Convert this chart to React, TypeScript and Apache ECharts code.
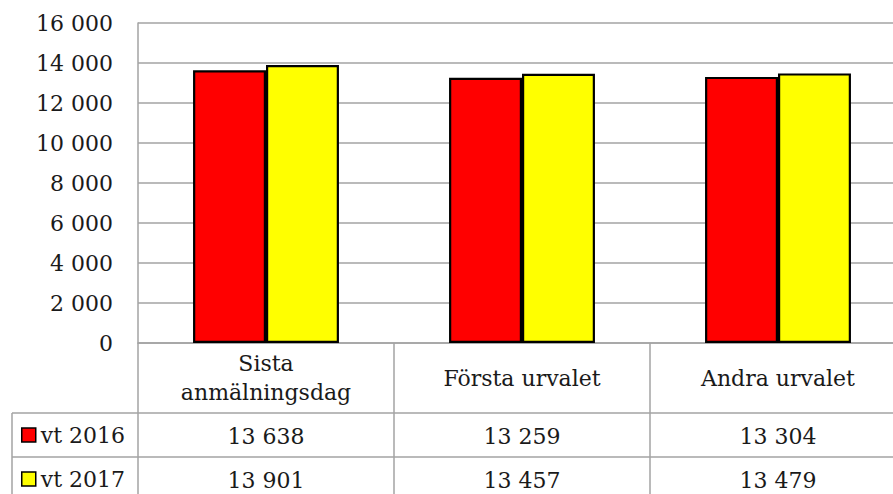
import React, { useEffect, useRef } from "react";
import * as echarts from "echarts";

const categories = ["Sista\nanmälningsdag", "Första urvalet", "Andra urvalet"];
const seriesNames = ["vt 2016", "vt 2017"];
const vt2016 = [13638, 13259, 13304];
const vt2017 = [13901, 13457, 13479];
const seriesColors = ["#ff0000", "#ffff00"];
const yMin = 0;
const yMax = 16000;
const yInterval = 2000;

const fmt = (v: number) => String(v).replace(/\B(?=(\d{3})+(?!\d))/g, " ");

const FONT = "DejaVu Serif";
const GRAY = "#a3a3a3";
const TXT = "#1a1a1a";

export default function App() {
  const ref = useRef<HTMLDivElement>(null);
  useEffect(() => {
    if (!ref.current) return;
    const chart = echarts.init(ref.current, null, { renderer: "svg" });
    const gridLeft = 138;
    const gridTop = 23;
    const gridBottomY = 343;
    const gridWidth = 768;
    const rowLine1 = 413;
    const rowLine2 = 457;
    const valueAxis = (data: string[], margin: number) => ({
      type: "category",
      gridIndex: 0,
      position: "bottom",
      data,
      axisLine: { show: false },
      axisTick: { show: false },
      splitLine: { show: false },
      axisLabel: {
        margin,
        verticalAlign: "middle",
        fontFamily: FONT,
        fontSize: 22,
        color: TXT,
        interval: 0,
      },
    });
    chart.setOption({
      animation: false,
      backgroundColor: "#ffffff",
      grid: {
        left: gridLeft,
        top: gridTop,
        width: gridWidth,
        height: gridBottomY - gridTop,
        containLabel: false,
        outerBoundsMode: "none",
      },
      legend: {
        orient: "vertical",
        left: 21,
        top: 424,
        padding: 0,
        itemWidth: 14,
        itemHeight: 14,
        itemGap: 22,
        icon: "rect",
        itemStyle: { borderColor: "#000", borderWidth: 1.5 },
        textStyle: { fontFamily: FONT, fontSize: 22, color: TXT, lineHeight: 22 },
        data: seriesNames,
      },
      xAxis: [
        {
          type: "category",
          data: categories,
          axisLine: { show: true, lineStyle: { color: GRAY, width: 1.5 } },
          axisTick: { show: true, length: 170, lineStyle: { color: GRAY, width: 1.5 } },
          axisLabel: {
            margin: 35,
            verticalAlign: "middle",
            fontFamily: FONT,
            fontSize: 22,
            lineHeight: 29,
            color: TXT,
            interval: 0,
          },
        },
        valueAxis(vt2016.map(fmt), rowLine1 - gridBottomY + 23),
        valueAxis(vt2017.map(fmt), rowLine2 - gridBottomY + 23),
      ],
      yAxis: {
        type: "value",
        min: yMin,
        max: yMax,
        interval: yInterval,
        axisLine: { show: true, lineStyle: { color: GRAY, width: 1.5 } },
        axisTick: { show: false },
        splitLine: { show: true, lineStyle: { color: GRAY, width: 1.5 } },
        axisLabel: {
          margin: 25,
          fontFamily: FONT,
          fontSize: 22,
          color: TXT,
          formatter: (v: number) => fmt(v),
        },
      },
      series: [vt2016, vt2017].map((d, i) => ({
        name: seriesNames[i],
        type: "bar",
        xAxisIndex: 0,
        data: d,
        barGap: "0%",
        barCategoryGap: "43%",
        itemStyle: { color: seriesColors[i], borderColor: "#000", borderWidth: 2.2 },
      })),
      graphic: [
        {
          type: "line",
          shape: { x1: 12, y1: rowLine1, x2: gridLeft + gridWidth, y2: rowLine1 },
          style: { stroke: GRAY, lineWidth: 1.5 },
        },
        {
          type: "line",
          shape: { x1: 12, y1: rowLine2, x2: gridLeft + gridWidth, y2: rowLine2 },
          style: { stroke: GRAY, lineWidth: 1.5 },
        },
        {
          type: "line",
          shape: { x1: 12, y1: rowLine1, x2: 12, y2: 510 },
          style: { stroke: GRAY, lineWidth: 1.5 },
        },
      ],
    });
    return () => chart.dispose();
  }, []);
  return (
    <div
      ref={ref}
      style={{ position: "fixed", left: 0, top: 0, width: 893, height: 494, background: "#fff" }}
    />
  );
}
